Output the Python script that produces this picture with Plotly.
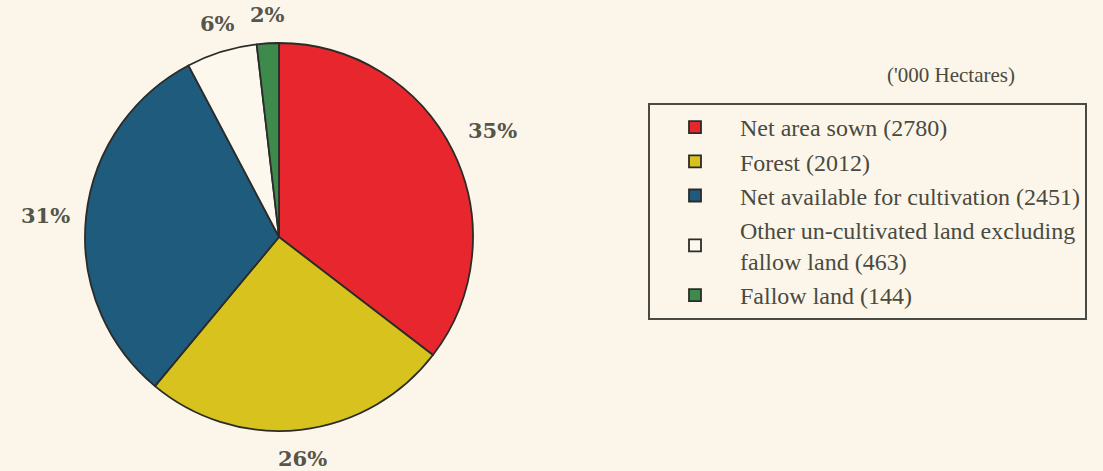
import math
import plotly.graph_objects as go

labels = ["Net area sown (2780)", "Forest (2012)", "Net available for cultivation (2451)",
          "Other un-cultivated land excluding<br>fallow land (463)", "Fallow land (144)"]
values = [2780, 2012, 2451, 463, 144]
colors = ["#e8262e", "#d8c21e", "#1f5b7c", "#fdf8ee", "#3d8a4c"]

W, H = 1103, 471
cx, cy, r = 279, 237, 194
BG = "#fcf6ea"
TXT = "#4a4a40"

fig = go.Figure(go.Pie(
    labels=labels, values=values, sort=False, direction="clockwise", rotation=0,
    marker=dict(colors=colors, line=dict(color="#2b2b28", width=1.8)),
    textinfo="none",
    domain=dict(x=[(cx - r) / W, (cx + r) / W], y=[1 - (cy + r) / H, 1 - (cy - r) / H]),
    hoverinfo="label+value+percent",
))

# percentage labels placed just outside each slice, derived from the values
total = sum(values)
annotations = []
cum = 0.0
gap = 14
for v in values:
    frac = v / total
    theta = 2 * math.pi * (cum + frac / 2)
    cum += frac
    s, c = math.sin(theta), math.cos(theta)
    px = cx + s * (r + gap)
    py = cy - c * (r + gap)
    xa = "left" if s > 0.35 else ("right" if s < -0.35 else "center")
    ya = "bottom" if c > 0.35 else ("top" if c < -0.35 else "middle")
    annotations.append(dict(
        text=f"{round(frac * 100)}%", x=px / W, y=1 - py / H, xref="paper", yref="paper",
        xanchor=xa, yanchor=ya, showarrow=False,
        font=dict(family="DejaVu Serif", size=21, color="#55554a", weight="bold")))

annotations.append(dict(text="('000 Hectares)", x=951 / W, y=1 - 75 / H, xref="paper", yref="paper",
                        xanchor="center", yanchor="middle", showarrow=False,
                        font=dict(family="Liberation Serif", size=21, color=TXT)))

fig.update_layout(
    width=W, height=H, margin=dict(l=0, r=0, t=0, b=0),
    paper_bgcolor=BG, plot_bgcolor=BG,
    showlegend=True,
    legend=dict(x=648 / W, y=1 - 103 / H, xanchor="left", yanchor="top",
                bordercolor="#4a4a44", borderwidth=2, bgcolor="rgba(0,0,0,0)",
                font=dict(family="Liberation Serif", size=24, color=TXT),
                itemwidth=80),
    annotations=annotations,
)

fig.write_html("out.html", config={"displayModeBar": False},
               post_script="document.body.style.margin='0';document.body.style.padding='0';"
                           "document.body.style.overflow='hidden';")
